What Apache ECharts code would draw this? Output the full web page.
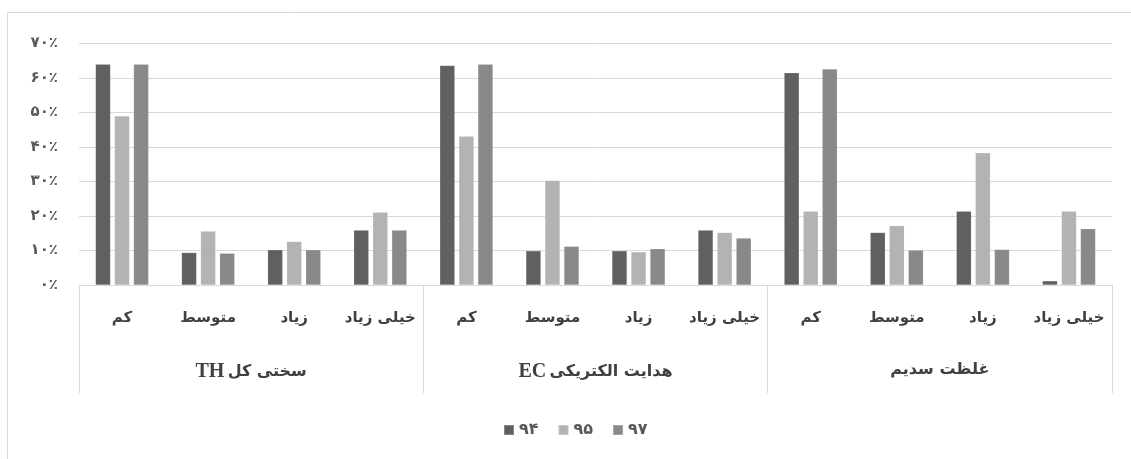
<!DOCTYPE html>
<html>
<head>
<meta charset="utf-8">
<style>
  html, body { margin: 0; padding: 0; background: #ffffff; }
  #chart { width: 1131px; height: 459px; }
</style>
<script src="https://cdn.jsdelivr.net/npm/echarts@6/dist/echarts.min.js"></script>
</head>
<body>
<div id="chart"></div>
<script>
// Water quality classes per parameter, three survey years (percent of samples)
const classes = ['کم', 'متوسط', 'زیاد', 'خیلی زیاد'];
const groups = ['سختی کل TH', 'هدایت الکتریکی EC', 'غلظت سدیم'];
const seriesNames = ['۹۴', '۹۵', '۹۷'];

// one value per class, groups in order: TH, EC, sodium
const year94 = [64, 9.4, 10.2, 15.9,   63.6, 9.9, 9.9, 15.9,   61.5, 15.2, 21.4, 1.2];
const year95 = [49, 15.6, 12.6, 21.1,  43.1, 30.3, 9.6, 15.2,  21.4, 17.2, 38.3, 21.4];
const year97 = [64, 9.2, 10.2, 15.9,   64.0, 11.2, 10.5, 13.6, 62.6, 10.1, 10.3, 16.3];

const yTicks = [0, 10, 20, 30, 40, 50, 60, 70];

const colors = ['#606060', '#b3b3b3', '#898989'];
const FONT = 'DejaVu Sans';

const categories = [];
groups.forEach(() => classes.forEach(c => categories.push(c)));

const persianDigits = '۰۱۲۳۴۵۶۷۸۹';
function toPersian(n) {
  return String(n).replace(/[0-9]/g, d => persianDigits[+d]);
}

// Right-to-left group title: a trailing Latin abbreviation is laid out on the left
function groupLabel(text) {
  const m = text.match(/^(.*?)\s+([A-Za-z]+)$/);
  if (!m) return '{ar|' + text + '}';
  return '{lat|' + m[2] + '} {ar|' + m[1] + '}';
}

const chart = echarts.init(document.getElementById('chart'), null, { renderer: 'canvas' });

const values = [year94, year95, year97];

chart.setOption({
  animation: false,
  backgroundColor: '#ffffff',
  graphic: [{
    type: 'rect',
    shape: { x: 7.5, y: 12.5, width: 1200, height: 600 },
    style: { fill: 'none', stroke: '#d9d9d9', lineWidth: 1 },
    silent: true,
    z: -10
  }],
  grid: { left: 79, right: 19, top: 43.5, bottom: 174, containLabel: false },
  legend: {
    data: seriesNames,
    left: 498,
    top: 417,
    icon: 'rect',
    itemWidth: 10,
    itemHeight: 10,
    itemGap: 19,
    textStyle: { fontFamily: FONT, fontSize: 16, fontWeight: 'bold', color: '#595959' }
  },
  xAxis: [{
    type: 'category',
    data: categories,
    position: 'bottom',
    axisLine: { show: true, lineStyle: { color: '#d9d9d9', width: 1 } },
    axisTick: { show: false },
    axisLabel: {
      interval: 0,
      margin: 26,
      fontFamily: FONT,
      fontSize: 15,
      fontWeight: 'bold',
      color: '#404040'
    }
  }, {
    type: 'category',
    data: groups,
    position: 'bottom',
    axisLine: { show: false },
    axisTick: { show: true, interval: 0, length: 108, lineStyle: { color: '#d9d9d9', width: 1 } },
    axisLabel: {
      interval: 0,
      margin: 77,
      formatter: groupLabel,
      rich: {
        ar: { fontFamily: FONT, fontSize: 16, fontWeight: 'bold', color: '#404040' },
        lat: { fontFamily: 'Liberation Serif', fontSize: 20, fontWeight: 'bold', color: '#404040' }
      }
    }
  }],
  yAxis: {
    type: 'value',
    min: 0,
    max: 70,
    interval: 10,
    axisLine: { show: false },
    axisTick: { show: false },
    splitLine: { lineStyle: { color: '#d9d9d9', width: 1 } },
    axisLabel: {
      margin: 21,
      fontFamily: FONT,
      fontSize: 15,
      fontWeight: 'bold',
      color: '#595959',
      customValues: yTicks,
      formatter: v => toPersian(v) + '٪'
    }
  },
  series: seriesNames.map((name, i) => ({
    name: name,
    type: 'bar',
    xAxisIndex: 0,
    data: values[i],
    barWidth: 15,
    barGap: '27%',
    itemStyle: { color: colors[i], borderColor: 'rgba(255,255,255,0.25)', borderWidth: 0.5 }
  }))
});
</script>
</body>
</html>
